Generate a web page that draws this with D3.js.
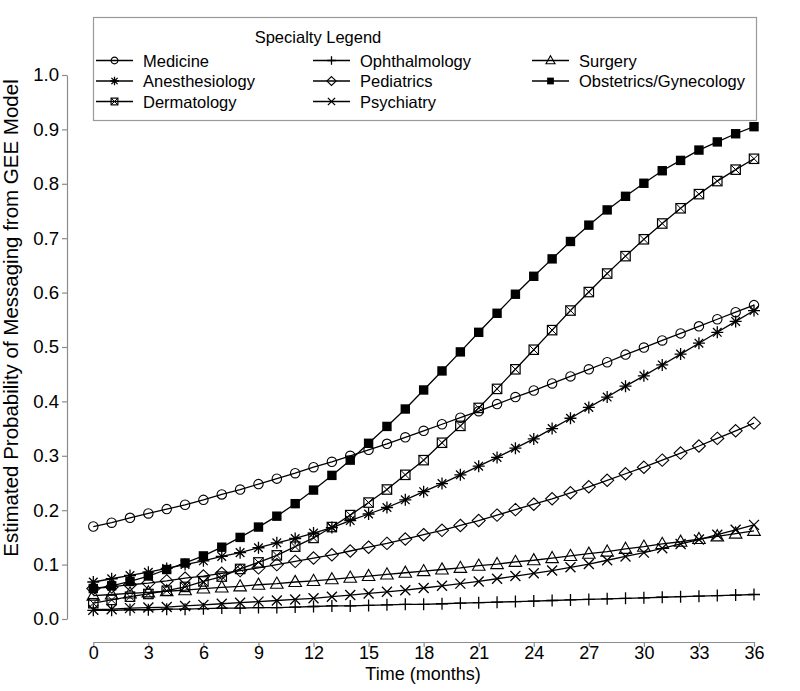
<!DOCTYPE html>
<html>
<head>
<meta charset="utf-8">
<script src="https://d3js.org/d3.v7.min.js"></script>
<style>
body {
  margin: 0;
  background: white;
  font-family: "Liberation Sans", Arial, sans-serif;
}
</style>
</head>
<body>
<div id="chart"></div>

<script>
// months 0..36
var months = [0,1,2,3,4,5,6,7,8,9,10,11,12,13,14,15,16,17,18,19,20,21,22,23,24,25,26,27,28,29,30,31,32,33,34,35,36];
var xTicks = [0,3,6,9,12,15,18,21,24,27,30,33,36];
var yTicks = [0.0,0.1,0.2,0.3,0.4,0.5,0.6,0.7,0.8,0.9,1.0];

// estimated probabilities
var medicine = [0.170,0.177,0.186,0.194,0.202,0.210,0.219,0.229,0.238,0.248,0.258,0.268,0.279,0.289,0.300,0.311,0.322,0.334,0.346,0.358,0.370,0.382,0.395,0.408,0.420,0.433,0.446,0.459,0.472,0.486,0.499,0.512,0.525,0.538,0.551,0.564,0.577];
var anesthesiology = [0.068,0.074,0.080,0.086,0.093,0.100,0.107,0.115,0.122,0.131,0.140,0.148,0.158,0.168,0.181,0.193,0.205,0.219,0.234,0.249,0.265,0.281,0.297,0.314,0.331,0.350,0.369,0.389,0.408,0.428,0.447,0.467,0.487,0.507,0.527,0.547,0.567];
var dermatology = [0.029,0.035,0.041,0.046,0.052,0.059,0.069,0.078,0.092,0.104,0.117,0.133,0.149,0.169,0.191,0.214,0.238,0.265,0.292,0.324,0.355,0.388,0.423,0.459,0.495,0.531,0.567,0.601,0.635,0.667,0.698,0.727,0.755,0.781,0.805,0.826,0.846];
var ophthalmology = [0.016,0.016,0.017,0.017,0.018,0.018,0.019,0.020,0.020,0.021,0.021,0.022,0.023,0.024,0.024,0.025,0.026,0.027,0.027,0.028,0.029,0.030,0.031,0.032,0.033,0.034,0.035,0.036,0.037,0.038,0.039,0.040,0.041,0.042,0.043,0.044,0.045];
var pediatrics = [0.056,0.059,0.063,0.066,0.070,0.075,0.079,0.084,0.089,0.094,0.100,0.106,0.112,0.118,0.125,0.132,0.139,0.147,0.155,0.163,0.172,0.181,0.191,0.201,0.211,0.221,0.232,0.243,0.255,0.267,0.279,0.292,0.305,0.318,0.332,0.346,0.360];
var psychiatry = [0.017,0.018,0.020,0.021,0.022,0.024,0.026,0.028,0.030,0.032,0.034,0.036,0.038,0.041,0.044,0.047,0.050,0.053,0.057,0.061,0.065,0.069,0.074,0.079,0.084,0.089,0.095,0.101,0.108,0.115,0.122,0.130,0.138,0.146,0.155,0.164,0.173];
var surgery = [0.043,0.045,0.047,0.049,0.051,0.053,0.056,0.058,0.060,0.063,0.065,0.068,0.070,0.073,0.076,0.079,0.082,0.085,0.088,0.091,0.094,0.098,0.101,0.105,0.108,0.112,0.116,0.120,0.124,0.129,0.133,0.138,0.142,0.147,0.152,0.157,0.162];
var obgyn = [0.056,0.061,0.069,0.079,0.091,0.103,0.116,0.132,0.150,0.169,0.189,0.212,0.237,0.264,0.292,0.323,0.354,0.386,0.421,0.456,0.491,0.527,0.562,0.597,0.630,0.662,0.694,0.724,0.752,0.777,0.801,0.824,0.843,0.862,0.877,0.892,0.905];

var specialties = ["Medicine","Anesthesiology","Dermatology","Ophthalmology","Pediatrics","Psychiatry","Surgery","Obstetrics/Gynecology"];
var symbols = ["circle","asterisk","boxx","plus","diamond","cross","triangle","square"];
var seriesValues = [medicine, anesthesiology, dermatology, ophthalmology, pediatrics, psychiatry, surgery, obgyn];

var series = specialties.map(function(name, i) {
  return { name: name, symbol: symbols[i], values: seriesValues[i] };
});

var svg = d3.select("#chart")
  .append("svg")
  .attr("width", 800)
  .attr("height", 691);

var xScale = d3.scaleLinear().domain([0, 36]).range([93.3, 754]);
var yScale = d3.scaleLinear().domain([0, 1]).range([619, 75]);

var axisColor = "#8c8c8c";

// Y axis
var yAxis = svg.append("g")
  .attr("transform", "translate(67,0)")
  .call(d3.axisLeft(yScale)
    .tickValues(yTicks)
    .tickFormat(d3.format(".1f"))
    .tickSize(5)
    .tickSizeOuter(0)
    .tickPadding(3));

// X axis
var xAxis = svg.append("g")
  .attr("transform", "translate(0,642)")
  .call(d3.axisBottom(xScale)
    .tickValues(xTicks)
    .tickSize(5)
    .tickSizeOuter(0)
    .tickPadding(0));

[yAxis, xAxis].forEach(function(ax) {
  ax.select(".domain").attr("stroke", axisColor).attr("stroke-width", 1.2);
  ax.selectAll(".tick line").attr("stroke", axisColor).attr("stroke-width", 1.2);
  ax.selectAll(".tick text")
    .attr("fill", "black")
    .style("font-family", "'Liberation Sans', Arial, sans-serif")
    .style("font-size", "18.6px");
});
xAxis.selectAll(".tick text").style("font-size", "18px").attr("dy", "0.68em");

// axis titles
svg.append("text")
  .attr("x", 423)
  .attr("y", 680)
  .attr("text-anchor", "middle")
  .style("font-size", "18px")
  .text("Time (months)");

svg.append("text")
  .attr("transform", "translate(18,318) rotate(-90)")
  .attr("text-anchor", "middle")
  .style("font-size", "20.5px")
  .text("Estimated Probability of Messaging from GEE Model");

// marker drawing
function drawMarker(g, type, s) {
  var k = s || 1;
  if (type == "circle") {
    g.append("circle").attr("r", 4.7 * k).attr("fill", "none").attr("stroke", "black").attr("stroke-width", 1.1);
  } else if (type == "asterisk") {
    var a = 6 * k, b = 4.3 * k;
    g.append("path")
      .attr("d", "M0," + (-a) + "L0," + a + "M" + (-b) + "," + (-b) + "L" + b + "," + b + "M" + (-b) + "," + b + "L" + b + "," + (-b) + "M" + (-a) + ",0L" + a + ",0")
      .attr("stroke", "black").attr("stroke-width", 1.3);
  } else if (type == "boxx") {
    var h = 4.7 * k;
    g.append("rect").attr("x", -h).attr("y", -h).attr("width", 2 * h).attr("height", 2 * h)
      .attr("fill", "none").attr("stroke", "black").attr("stroke-width", 1.2);
    g.append("path")
      .attr("d", "M" + (-h) + "," + (-h) + "L" + h + "," + h + "M" + (-h) + "," + h + "L" + h + "," + (-h))
      .attr("stroke", "black").attr("stroke-width", 1);
  } else if (type == "plus") {
    var p = 6 * k;
    g.append("path")
      .attr("d", "M0," + (-p) + "L0," + p + "M" + (-p) + ",0L" + p + ",0")
      .attr("stroke", "black").attr("stroke-width", 1.3);
  } else if (type == "diamond") {
    var dw = 6.5 * k, dh = 6.2 * k;
    g.append("path")
      .attr("d", "M0," + (-dh) + "L" + dw + ",0L0," + dh + "L" + (-dw) + ",0Z")
      .attr("fill", "none").attr("stroke", "black").attr("stroke-width", 1.1);
  } else if (type == "cross") {
    var c = 5 * k;
    g.append("path")
      .attr("d", "M" + (-c) + "," + (-c) + "L" + c + "," + c + "M" + (-c) + "," + c + "L" + c + "," + (-c))
      .attr("stroke", "black").attr("stroke-width", 1.3);
  } else if (type == "triangle") {
    var t = 6.3 * k;
    g.append("path")
      .attr("d", "M0," + (-t * 1.05) + "L" + t + "," + (t * 0.72) + "L" + (-t) + "," + (t * 0.72) + "Z")
      .attr("fill", "none").attr("stroke", "black").attr("stroke-width", 1.1);
  } else if (type == "square") {
    var q = 4.7 * k;
    g.append("rect").attr("x", -q).attr("y", -q).attr("width", 2 * q).attr("height", 2 * q)
      .attr("fill", "black");
  }
}

var line = d3.line()
  .x(function(d, i) { return xScale(months[i]); })
  .y(function(d) { return yScale(d); });

var plot = svg.append("g");

series.forEach(function(s) {
  plot.append("path")
    .attr("d", line(s.values))
    .attr("fill", "none")
    .attr("stroke", "black")
    .attr("stroke-width", 1.3);

  plot.selectAll(null)
    .data(s.values)
    .enter()
    .append("g")
    .attr("transform", function(d, i) { return "translate(" + xScale(months[i]) + "," + yScale(d) + ")"; })
    .each(function() { drawMarker(d3.select(this), s.symbol, 1); });
});

// legend
var legend = svg.append("g");
legend.append("rect")
  .attr("x", 93.5)
  .attr("y", 17.5)
  .attr("width", 663)
  .attr("height", 103)
  .attr("fill", "white")
  .attr("stroke", "#999")
  .attr("stroke-width", 1.2);

legend.append("text")
  .attr("x", 318)
  .attr("y", 43)
  .attr("text-anchor", "middle")
  .style("font-size", "16.5px")
  .text("Specialty Legend");

var legendCols = [96, 313, 532];
var legendRows = [60.5, 81, 101.5];
var legendPos = [[0,0],[0,1],[0,2],[1,0],[1,1],[1,2],[2,0],[2,1]];

series.forEach(function(s, i) {
  var cx = legendCols[legendPos[i][0]];
  var cy = legendRows[legendPos[i][1]];
  var item = legend.append("g").attr("transform", "translate(" + cx + "," + cy + ")");
  item.append("line")
    .attr("x1", 0).attr("x2", 37)
    .attr("y1", 0).attr("y2", 0)
    .attr("stroke", "black").attr("stroke-width", 1.3);
  drawMarker(item.append("g").attr("transform", "translate(18.5,0)"), s.symbol, 0.72);
  item.append("text")
    .attr("x", 47)
    .attr("y", 6)
    .style("font-size", "16.5px")
    .text(s.name);
});
</script>
</body>
</html>
